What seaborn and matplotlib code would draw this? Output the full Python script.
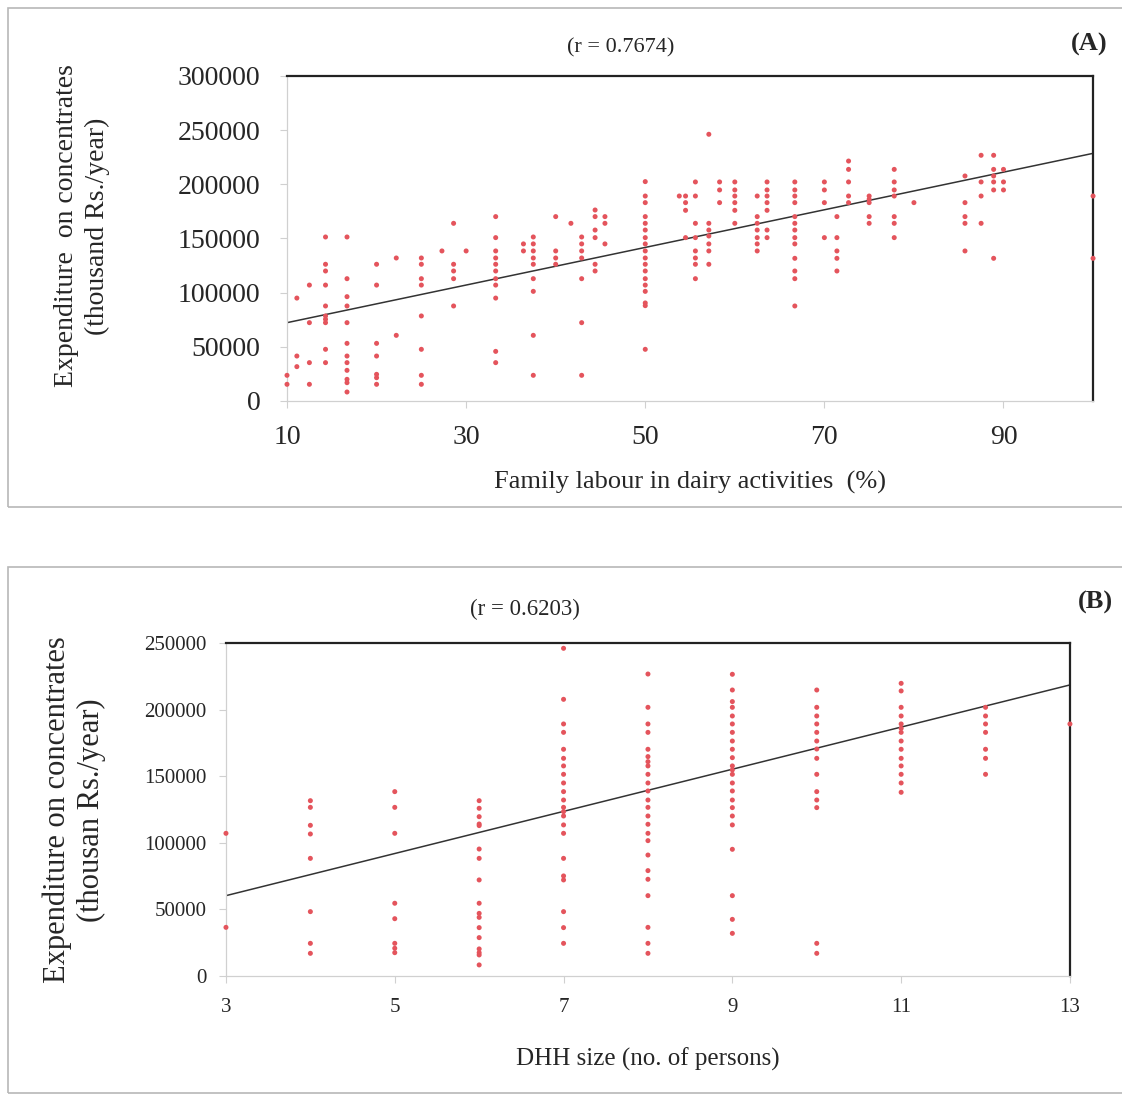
import numpy as np
import pandas as pd
import matplotlib
matplotlib.use("Agg")
import matplotlib.pyplot as plt
import seaborn as sns
from matplotlib.patches import Rectangle

# ---- data ----
# panel A: family labour (%) -> expenditure on concentrates
labour_pct = [10, 11.1, 12.5, 14.3, 16.7, 20, 22.2, 25, 27.3, 28.6, 30, 33.3, 36.4,
              37.5, 40, 41.7, 42.9, 44.4, 45.5, 50, 53.8, 54.5, 55.6, 57.1, 58.3,
              60, 62.5, 63.6, 66.7, 70, 71.4, 72.7, 75, 77.8, 80, 85.7, 87.5, 88.9,
              90, 100]
labour_spend = [
    [23700, 15400],
    [95000, 41500, 31700],
    [107000, 72300, 35400, 15400],
    [151400, 126200, 120000, 107000, 87700, 78500, 75400, 72300, 47700, 35400],
    [151400, 112900, 96300, 87700, 72300, 53200, 41500, 35400, 28300, 20000, 16900, 8300],
    [126200, 107000, 53200, 41500, 24600, 21500, 15400],
    [132000, 60600],
    [132000, 126200, 112900, 107000, 78500, 47700, 23700, 15400],
    [138500],
    [164000, 126200, 120000, 112900, 87700],
    [138500],
    [170200, 150800, 138500, 132000, 126200, 120000, 112900, 107000, 95000, 45800, 35400],
    [145000, 138500],
    [151400, 145000, 138500, 132000, 126200, 112900, 101200, 60600, 23700],
    [170200, 138500, 132000, 126200],
    [164000],
    [151400, 145000, 138500, 132000, 112900, 72300, 23700],
    [176300, 170200, 157800, 150800, 126200, 120000],
    [170200, 164000, 145000],
    [202500, 189200, 183100, 170200, 164000, 157800, 150800, 145000, 138500, 132000,
     126200, 120000, 112900, 107000, 101200, 90500, 88000, 47700],
    [189200],
    [189200, 183100, 176000, 150800],
    [202200, 189200, 164000, 150800, 138500, 132000, 126200, 112900],
    [246200, 164000, 157800, 152300, 145000, 138500, 126200],
    [202200, 194800, 183100],
    [202200, 194800, 189200, 183100, 176000, 164000],
    [189200, 170200, 164000, 157800, 150800, 145000, 138500],
    [202200, 194800, 189200, 183100, 176000, 157800, 150800],
    [202200, 194800, 189200, 183100, 170200, 164000, 157800, 150800, 145000, 131700,
     120000, 112900, 87700],
    [202200, 194800, 183100, 150800],
    [170200, 150800, 138500, 131700, 120000],
    [221500, 213800, 202200, 189200, 183100],
    [189200, 186200, 183100, 170200, 164000],
    [213800, 202200, 194800, 189200, 170200, 164000, 150800],
    [183100],
    [207700, 183100, 170200, 164000, 138500],
    [226800, 202200, 189200, 164000],
    [226800, 213800, 207700, 202200, 194800, 131700],
    [213800, 202200, 194800],
    [189200, 131700],
]
trend_a_x = [10, 100]
trend_a_y = [72300, 228600]

# panel B: DHH size -> expenditure on concentrates
dhh_size = [3, 4, 5, 6, 7, 8, 9, 10, 11, 12, 13]
dhh_spend = [
    [107100, 36500],
    [131600, 126600, 113100, 106600, 88300, 48300, 24500, 17000],
    [138400, 126600, 107100, 54600, 43000, 24500, 20800, 17500],
    [131600, 125900, 119600, 114100, 112900, 95300, 88300, 72100, 54600, 47000, 44000,
     36300, 28800, 20300, 17500, 15800, 8300],
    [246000, 207700, 189200, 182900, 170200, 163400, 157700, 151400, 144900, 138400,
     132100, 126600, 123400, 120100, 113400, 107100, 88300, 75100, 72100, 48300,
     36300, 24500],
    [226700, 201700, 189200, 182900, 170200, 164700, 160900, 157700, 151400, 144900,
     138900, 132100, 126600, 120100, 113900, 107100, 101600, 90800, 79100, 72600,
     60300, 36500, 24500, 17000],
    [226500, 214700, 206000, 201700, 195200, 189200, 182900, 176400, 170200, 163900,
     157700, 154700, 151400, 144900, 138900, 132100, 126400, 120100, 113400, 95100,
     60300, 42500, 32000],
    [214700, 201700, 195200, 189200, 182900, 176400, 170400, 163400, 151400, 138400,
     132100, 126400, 24500, 17000],
    [219700, 214000, 201700, 195200, 189200, 185900, 182900, 176400, 170200, 163400,
     157700, 151400, 144900, 137900],
    [201700, 195200, 189200, 182900, 170200, 163400, 151400],
    [189200],
]
trend_b_x = [3, 13]
trend_b_y = [60300, 218500]


def to_frame(xs, groups):
    rows = [(x, y) for x, ys in zip(xs, groups) for y in ys]
    return pd.DataFrame(rows, columns=["x", "y"])


df_a = to_frame(labour_pct, labour_spend)
df_b = to_frame(dhh_size, dhh_spend)

sns.set_style("white")
plt.rcParams["font.family"] = ["Liberation Serif", "DejaVu Serif"]

DOT = "#e4545c"
GRID = "#d0d0d0"

fig = plt.figure(figsize=(11.22, 10.95), dpi=100)

# panel frames
fig.patches.append(Rectangle((0.007, 0.537), 1.1, 0.456, transform=fig.transFigure,
                             fill=False, edgecolor="#b8b8b8", lw=1.2))
fig.patches.append(Rectangle((0.007, 0.002), 1.1, 0.480, transform=fig.transFigure,
                             fill=False, edgecolor="#b8b8b8", lw=1.2))


def style_axes(ax, tick_fs, ypad, xpad):
    for s in ["top", "right"]:
        ax.spines[s].set_color("#222222")
        ax.spines[s].set_linewidth(1.6)
    for s in ["left", "bottom"]:
        ax.spines[s].set_color(GRID)
        ax.spines[s].set_linewidth(0.9)
    ax.tick_params(axis="y", direction="out", length=5, width=0.8, color=GRID,
                   labelsize=tick_fs, pad=ypad, left=True)
    ax.tick_params(axis="x", direction="out", length=5, width=0.8, color=GRID,
                   labelsize=tick_fs, pad=xpad, bottom=True)
    ax.set_xlabel("")
    ax.set_ylabel("")


# ---- panel A ----
ax1 = fig.add_axes([0.2558, 0.6338, 0.7184, 0.2968])
sns.scatterplot(data=df_a, x="x", y="y", ax=ax1, color=DOT, s=13, edgecolor="none",
                clip_on=False, zorder=3)
sns.lineplot(x=trend_a_x, y=trend_a_y, ax=ax1, color="#333333", lw=1.1, zorder=2)
ax1.set_xlim(10, 100)
ax1.set_ylim(0, 300000)
ax1.set_xticks([10, 30, 50, 70, 90])
ax1.set_yticks(np.arange(0, 300001, 50000))
style_axes(ax1, 20, 14, 12)
ax1.set_xlabel("Family labour in dairy activities  (%)", fontsize=19, labelpad=15)
fig.text(0.0731, 0.7936, "Expenditure  on concentrates\n(thousand Rs./year)",
         rotation=90, ha="center", va="center", fontsize=20, linespacing=1.3)
fig.text(0.553, 0.956, "(r = 0.7674)", ha="center", va="center", fontsize=16)
fig.text(0.971, 0.959, "(A)", ha="center", va="center", fontsize=19, fontweight="bold")

# ---- panel B ----
ax2 = fig.add_axes([0.2014, 0.1087, 0.7522, 0.3041])
sns.scatterplot(data=df_b, x="x", y="y", ax=ax2, color=DOT, s=13, edgecolor="none",
                clip_on=False, zorder=3)
sns.lineplot(x=trend_b_x, y=trend_b_y, ax=ax2, color="#333333", lw=1.1, zorder=2)
ax2.set_xlim(3, 13)
ax2.set_ylim(0, 250000)
ax2.set_xticks([3, 5, 7, 9, 11, 13])
ax2.set_yticks(np.arange(0, 250001, 50000))
style_axes(ax2, 15, 9, 11)
ax2.set_xlabel("DHH size (no. of persons)", fontsize=18, labelpad=22)
fig.text(0.066, 0.2603, "Expenditure on concentrates\n(thousan Rs./year)",
         rotation=90, ha="center", va="center", fontsize=22, linespacing=1.25)
fig.text(0.468, 0.443, "(r = 0.6203)", ha="center", va="center", fontsize=16.5)
fig.text(0.976, 0.450, "(B)", ha="center", va="center", fontsize=19, fontweight="bold")

fig.savefig("out.png", dpi=100)
